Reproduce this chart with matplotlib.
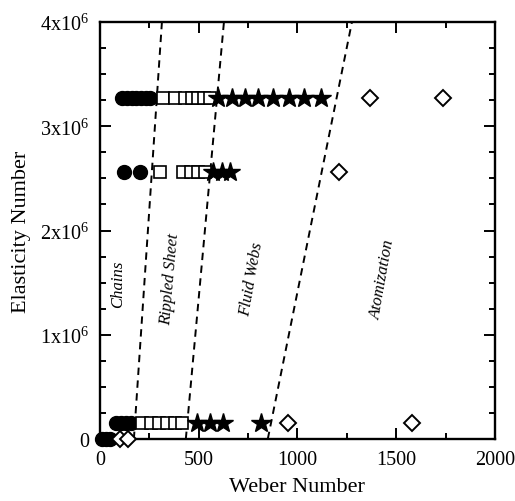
import numpy as np
import matplotlib
matplotlib.use("Agg")
import matplotlib.pyplot as plt
from matplotlib.ticker import MultipleLocator, FixedLocator

plt.rcParams['font.family'] = ['Liberation Serif', 'DejaVu Serif']
plt.rcParams['mathtext.fontset'] = 'custom'
plt.rcParams['mathtext.rm'] = 'Liberation Serif'
plt.rcParams['mathtext.it'] = 'Liberation Serif:italic'

# regime data (Weber number, elasticity number)
chains_we = [110, 135, 160, 185, 210, 235, 255,
             122, 202,
             80, 105, 130, 155,
             10, 30, 50]
chains_el = [3.27e6] * 7 + [2.56e6] * 2 + [0.15e6] * 4 + [0.0] * 3

sheet_we = [319, 380, 430, 466, 496, 527, 557,
            304, 420, 460, 496, 530,
            215, 260, 300, 340, 380, 415]
sheet_el = [3.27e6] * 7 + [2.56e6] * 5 + [0.15e6] * 6

webs_we = [597, 668, 734, 800, 876, 957, 1033, 1119,
           572, 617, 658,
           490, 555, 625, 815]
webs_el = [3.27e6] * 8 + [2.56e6] * 3 + [0.15e6] * 4

atom_we = [1367, 1737, 1210, 953, 1580, 101, 142]
atom_el = [3.27e6, 3.27e6, 2.56e6, 0.15e6, 0.15e6, 0.0, 0.0]

# regime boundaries: (We at El=0, We at El=4e6)
bound_lo = [172, 435, 850]
bound_hi = [314, 628, 1276]

regions = ['Chains', 'Rippled Sheet', 'Fluid Webs', 'Atomization']
region_x = [91, 354, 770, 1433]
region_y = [1.49e6, 1.54e6, 1.54e6, 1.54e6]
region_rot = [90, 85, 80, 80]

fig = plt.figure(figsize=(5.15, 5.02), dpi=100)
ax = fig.add_axes([0.194, 0.1235, 0.767, 0.8305])

for lo, hi in zip(bound_lo, bound_hi):
    ax.plot([lo, hi], [0, 4e6], color='black', lw=1.4, dashes=(3.8, 2.8))

ax.plot(chains_we, chains_el, 'o', color='black', ms=10, ls='none', clip_on=False, zorder=3)
ax.plot(sheet_we, sheet_el, 's', mfc='white', mec='black', mew=1.2, ms=8, ls='none', clip_on=False, zorder=3)
ax.plot(webs_we, webs_el, '*', color='black', ms=15, ls='none', clip_on=False, zorder=3)
ax.plot(atom_we, atom_el, 'D', mfc='white', mec='black', mew=1.4, ms=8.5, ls='none', clip_on=False, zorder=3)

for name, x, y, r in zip(regions, region_x, region_y, region_rot):
    ax.text(x, y, name, rotation=r, fontsize=12, style='italic',
            ha='center', va='center', rotation_mode='anchor')

ax.set_xlim(0, 2000)
ax.set_ylim(0, 4e6)
ax.xaxis.set_major_locator(MultipleLocator(500))
ax.xaxis.set_minor_locator(MultipleLocator(250))
ax.yaxis.set_major_locator(FixedLocator([0, 1e6, 2e6, 3e6, 4e6]))
ax.yaxis.set_minor_locator(MultipleLocator(0.25e6))
ax.set_yticklabels(['0', r'1x10$^{6}$', r'2x10$^{6}$', r'3x10$^{6}$', r'4x10$^{6}$'])

ax.tick_params(which='both', direction='in', top=True, right=True, labelsize=14.5, width=1.4)
ax.tick_params(which='major', length=8, pad=8)
ax.tick_params(which='minor', length=4)
for s in ax.spines.values():
    s.set_linewidth(1.7)

ax.set_xlabel('Weber Number', fontsize=16, labelpad=6)
ax.set_ylabel('Elasticity Number', fontsize=16, labelpad=6)

fig.savefig('out.png', dpi=100)
